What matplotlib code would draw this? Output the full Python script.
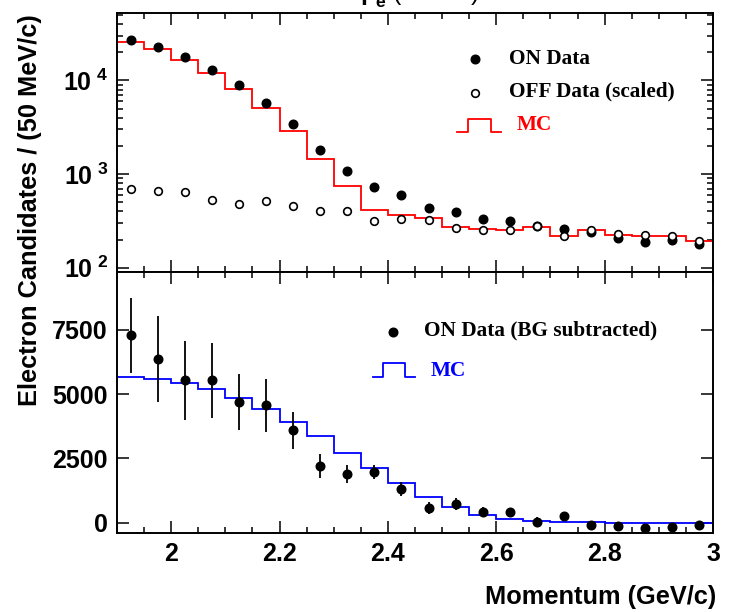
import numpy as np
import matplotlib
matplotlib.use("Agg")
import matplotlib.pyplot as plt
from matplotlib.lines import Line2D
from matplotlib.ticker import FixedLocator, FixedFormatter, MultipleLocator, LogLocator, NullFormatter

plt.rcParams['font.family'] = ['Liberation Sans', 'DejaVu Sans']
plt.rcParams['font.weight'] = 'bold'
plt.rcParams['mathtext.fontset'] = 'custom'
plt.rcParams['mathtext.rm'] = 'Liberation Sans:bold'
plt.rcParams['mathtext.bf'] = 'Liberation Sans:bold'
plt.rcParams['mathtext.it'] = 'Liberation Sans:italic'
plt.rcParams['mathtext.default'] = 'bf'

# ---- data ----
bin_edges = np.round(np.arange(1.90, 3.0001, 0.05), 3)
bin_centers = (bin_edges[:-1] + bin_edges[1:]) / 2

on_data = [27400, 22700, 17900, 13100, 8920, 5820, 3470, 1830, 1070, 733, 592,
           433, 396, 331, 318, 279, 259, 242, 206, 190, 197, 179]
off_data = [685, 653, 637, 528, 478, 515, 459, 406, 403, 312, 328,
            323, 267, 250, 250, 281, 218, 250, 227, 221, 220, 194]
mc_upper = [25900, 21800, 16600, 12100, 8080, 5070, 2880, 1460, 750, 409, 365,
            339, 270, 259, 255, 272, 218, 250, 221, 218, 216, 193]

sub_data = [7290, 6380, 5540, 5540, 4695, 4565, 3593, 2205, 1880, 1971, 1310,
            571, 726, 428, 402, 39, 246, -78, -130, -220, -156, -104]
sub_err = [1460, 1670, 1540, 1450, 1080, 1040, 720, 470, 350, 270, 260,
           250, 220, 180, 180, 180, 150, 150, 130, 130, 130, 130]
mc_lower = [5655, 5577, 5421, 5201, 4851, 4436, 3930, 3359, 2711, 2114, 1543,
            1012, 610, 298, 143, 65, 26, 10, 5, 3, 2, 1]

x_ticks = [2.0, 2.2, 2.4, 2.6, 2.8, 3.0]
x_ticklabels = ['2', '2.2', '2.4', '2.6', '2.8', '3']
upper_yticks = [100, 1000, 10000]
upper_yticklabels = [r'$10^{\ 2}$', r'$10^{\ 3}$', r'$10^{\ 4}$']
lower_yticks = [0, 2500, 5000, 7500]
lower_yticklabels = ['0', '2500', '5000', '7500']

# ---- figure ----
W, H = 734, 612
fig = plt.figure(figsize=(W / 100, H / 100), dpi=100)
L = 117 / W
R = 713 / W
top_u = 1 - 12.7 / H
mid = 1 - 272 / H
bot = 1 - 533 / H
ax1 = fig.add_axes([L, mid, R - L, top_u - mid])
ax2 = fig.add_axes([L, bot, R - L, mid - bot])

tick_fs = 18
leg_fs = 15.3
serif = ['Liberation Serif', 'DejaVu Serif']

for ax in (ax1, ax2):
    ax.set_xlim(1.9, 3.0)
    ax.xaxis.set_major_locator(FixedLocator(x_ticks))
    ax.xaxis.set_minor_locator(MultipleLocator(0.05))
    ax.tick_params(which='both', direction='in', top=True, right=True, width=1.1)
    ax.tick_params(which='major', length=8.5, labelsize=tick_fs, pad=6.5)
    ax.tick_params(which='minor', length=4.5)
    for s in ax.spines.values():
        s.set_linewidth(1.4)

# upper panel
ax1.set_yscale('log')
ax1.set_ylim(90, 5.3e4)
ax1.stairs(mc_upper, bin_edges, color='#ff0000', lw=1.3, baseline=None, zorder=2)
ax1.plot(bin_centers, on_data, 'o', color='black', ms=6.2, zorder=3)
ax1.plot(bin_centers, off_data, 'o', mfc='white', mec='black', mew=1.2, ms=5.5, zorder=3)
ax1.yaxis.set_major_locator(FixedLocator(upper_yticks))
ax1.yaxis.set_major_formatter(FixedFormatter(upper_yticklabels))
ax1.yaxis.set_minor_locator(LogLocator(base=10, subs=np.arange(2, 10)))
ax1.yaxis.set_minor_formatter(NullFormatter())
ax1.set_xticklabels([])

# upper legend
ax1.plot([0.6007], [0.822], 'o', color='black', ms=6.2, transform=ax1.transAxes, clip_on=False)
ax1.text(0.658, 0.822, 'ON Data', transform=ax1.transAxes, fontsize=leg_fs,
         family=serif, weight='bold', va='center', ha='left')
ax1.plot([0.6007], [0.691], 'o', mfc='white', mec='black', mew=1.2, ms=5.5,
         transform=ax1.transAxes, clip_on=False)
ax1.text(0.658, 0.697, 'OFF Data (scaled)', transform=ax1.transAxes, fontsize=leg_fs,
         family=serif, weight='bold', va='center', ha='left')
ax1.add_line(Line2D([0.5705, 0.589, 0.589, 0.6275, 0.6275, 0.6443],
                    [0.5395, 0.5395, 0.5895, 0.5895, 0.5395, 0.5395],
                    transform=ax1.transAxes, color='#ff0000', lw=1.3))
ax1.text(0.67, 0.567, 'MC', transform=ax1.transAxes, fontsize=leg_fs, color='#ff0000',
         family=serif, weight='bold', va='center', ha='left')

# lower panel
ax2.set_ylim(-400, 9750)
ax2.stairs(mc_lower, bin_edges, color='#0000ff', lw=1.3, baseline=None, zorder=2)
ax2.errorbar(bin_centers, sub_data, yerr=sub_err, fmt='o', color='black', ms=6.2,
             elinewidth=1.3, capsize=0, zorder=3)
ax2.yaxis.set_major_locator(FixedLocator(lower_yticks))
ax2.yaxis.set_major_formatter(FixedFormatter(lower_yticklabels))
ax2.xaxis.set_major_formatter(FixedFormatter(x_ticklabels))

ax2.plot([0.463], [0.771], 'o', color='black', ms=6.2, transform=ax2.transAxes, clip_on=False)
ax2.text(0.515, 0.775, 'ON Data (BG subtracted)', transform=ax2.transAxes, fontsize=leg_fs,
         family=serif, weight='bold', va='center', ha='left')
ax2.add_line(Line2D([0.4287, 0.4465, 0.4465, 0.483, 0.483, 0.500],
                    [0.5966, 0.5966, 0.6525, 0.6525, 0.5966, 0.5966],
                    transform=ax2.transAxes, color='#0000ff', lw=1.3))
ax2.text(0.527, 0.6207, 'MC', transform=ax2.transAxes, fontsize=leg_fs, color='#0000ff',
         family=serif, weight='bold', va='center', ha='left')

# labels
fig.text(30 / W, 1 - 210 / H, 'Electron Candidates / (50 MeV/c)', rotation=90,
         fontsize=18.3, weight='bold', ha='center', va='center')
fig.text(716 / W, 1 - 597 / H, 'Momentum (GeV/c)', fontsize=18.3, weight='bold',
         ha='right', va='center')
fig.text(420 / W, 1 - 0.5 / H, r'$p^{*}_{e}$ (GeV/c)', fontsize=18, weight='normal',
         ha='center', va='baseline')

fig.savefig('out.png', dpi=100)
